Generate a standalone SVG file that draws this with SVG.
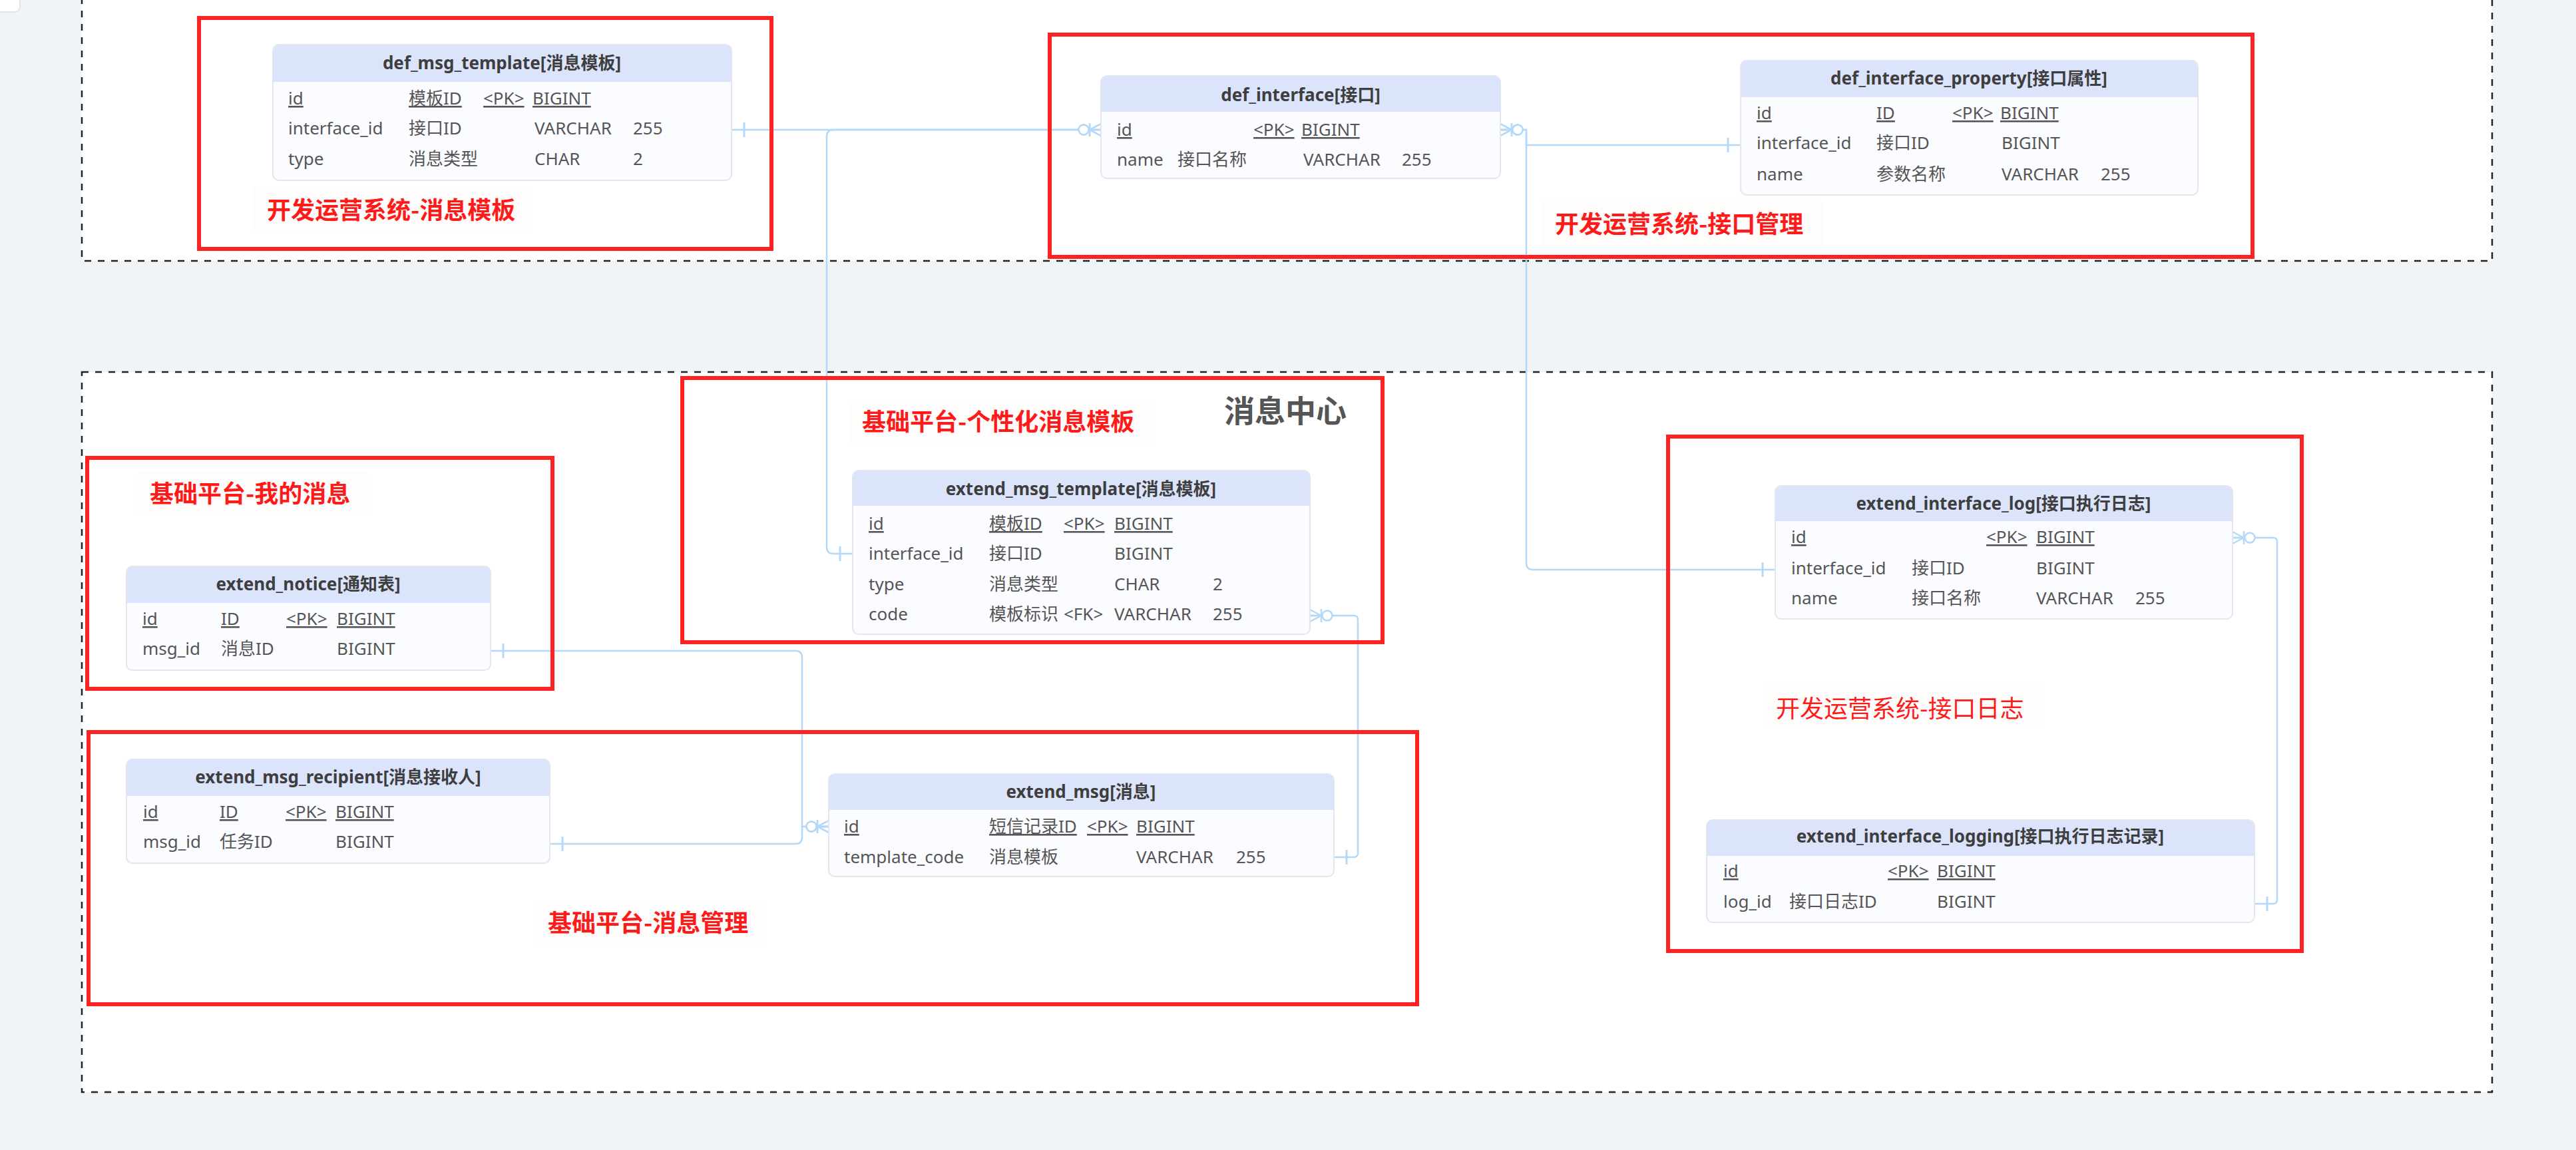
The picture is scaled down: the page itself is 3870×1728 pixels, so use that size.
<svg xmlns="http://www.w3.org/2000/svg" width="3870" height="1728" viewBox="0 0 3870 1728">
<style>
.bg{fill:#f1f4f6}
.zone{fill:#ffffff;stroke:#222;stroke-width:2.5;stroke-dasharray:10 10}
.red{fill:none;stroke:#ff2222;stroke-width:6}
.lblbg{fill:#fffcfc}
.lbl{font-family:"Noto Sans CJK SC","Noto Sans",sans-serif;font-size:36px;fill:#ff1a1a;font-weight:600}
.lbl2{font-family:"Noto Sans CJK SC","Noto Sans",sans-serif;font-size:36px;fill:#ff1a1a;font-weight:400}
.title{font-family:"Noto Sans CJK SC","Noto Sans",sans-serif;font-size:46px;fill:#555;font-weight:700}
.tbl{fill:#fbfcff;stroke:#e3e6ee;stroke-width:2}
.hdr{fill:#dce4fb}
.ht{font-family:"Noto Sans","Noto Sans CJK SC",sans-serif;font-size:26px;font-weight:700;fill:#3e3e3e;text-anchor:middle}
.rt{font-family:"Noto Sans","Noto Sans CJK SC",sans-serif;font-size:26px;fill:#555}
.u{text-decoration:underline}
.conn{fill:none;stroke:#b3d8f8;stroke-width:2.5}
</style>
<defs>
<marker id="many" markerUnits="userSpaceOnUse" markerWidth="40" markerHeight="30" viewBox="-40 -15 40 30" refX="0" refY="0" orient="auto" overflow="visible">
<path d="M-17,0 L0,-9 M-17,0 L0,0 M-17,0 L0,9 M-17,-10 V10" fill="none" stroke="#b3d8f8" stroke-width="2.5"/>
<circle cx="-26" cy="0" r="7.5" fill="#fff" stroke="#b3d8f8" stroke-width="2.5"/>
</marker>
<marker id="one" markerUnits="userSpaceOnUse" markerWidth="40" markerHeight="30" viewBox="-40 -15 40 30" refX="0" refY="0" orient="auto-start-reverse" overflow="visible">
<path d="M-19,-11 V11" fill="none" stroke="#b3d8f8" stroke-width="3"/>
</marker>
</defs>
<rect class="bg" x="0" y="0" width="3870" height="1728"/>
<rect x="-10" y="-10" width="40" height="28" rx="8" fill="#fff" stroke="#e2e3ee" stroke-width="2"/>
<rect class="zone" x="123" y="-20" width="3621" height="412"/>
<rect class="zone" x="123" y="559" width="3621" height="1082"/>

<g id="connectors">
<path class="conn" d="M1099,195 H1654" marker-start="url(#one)" marker-end="url(#many)"/>
<path class="conn" d="M1281,832 H1252 Q1242,832 1242,822 V205 Q1242,195 1252,195 H1654" marker-start="url(#one)" marker-end="url(#many)"/>
<path class="conn" d="M2615,218 H2293 V195 H2254" marker-start="url(#one)" marker-end="url(#many)"/>
<path class="conn" d="M2667,856 H2303 Q2293,856 2293,846 V195 H2254" marker-start="url(#one)" marker-end="url(#many)"/>
<path class="conn" d="M737,978 H1195 Q1205,978 1205,988 V1242 H1245" marker-start="url(#one)" marker-end="url(#many)"/>
<path class="conn" d="M826,1268 H1195 Q1205,1268 1205,1258 V1242 H1245" marker-start="url(#one)" marker-end="url(#many)"/>
<path class="conn" d="M2004,1288 H2034 Q2040,1288 2040,1282 V931 Q2040,925 2034,925 H1968" marker-start="url(#one)" marker-end="url(#many)"/>
<path class="conn" d="M3387,1358 H3415 Q3421,1358 3421,1352 V814 Q3421,808 3415,808 H3354" marker-start="url(#one)" marker-end="url(#many)"/>
</g>

<g id="group-msg-template-dev">
<rect class="red" x="299" y="27" width="860" height="347"/>
<rect class="lblbg" x="381" y="280" width="419" height="67"/>
<text class="lbl" x="401" y="329">开发运营系统-消息模板</text>
</g>
<g id="group-interface-dev">
<rect class="red" x="1577" y="52" width="1807" height="334"/>
<rect class="lblbg" x="2315" y="303" width="424" height="66"/>
<text class="lbl" x="2336" y="350">开发运营系统-接口管理</text>
</g>
<g id="group-custom-template">
<rect class="red" x="1025" y="568" width="1052" height="397"/>
<rect class="lblbg" x="1277" y="602" width="453" height="65"/>
<text class="lbl" x="1295" y="647">基础平台-个性化消息模板</text>
<text class="title" x="1839" y="634">消息中心</text>
</g>
<g id="group-my-msg">
<rect class="red" x="131" y="688" width="699" height="347"/>
<rect class="lblbg" x="207" y="708" width="346" height="67"/>
<text class="lbl" x="225" y="755">基础平台-我的消息</text>
</g>
<g id="group-interface-log">
<rect class="red" x="2506" y="656" width="952" height="773"/>
<rect class="lblbg" x="2650" y="1030" width="420" height="64"/>
<text class="lbl2" x="2668" y="1078">开发运营系统-接口日志</text>
</g>
<g id="group-msg-manage">
<rect class="red" x="133" y="1100" width="1996" height="409"/>
<rect class="lblbg" x="806" y="1355" width="345" height="66"/>
<text class="lbl" x="823" y="1400">基础平台-消息管理</text>
</g>

<g id="def_msg_template">
<rect class="tbl" x="410" y="67" width="689" height="204" rx="9"/>
<path class="hdr" d="M411,123 V76 Q411,68 419,68 H1090 Q1098,68 1098,76 V123 Z"/>
<text class="ht" x="754" y="104">def_msg_template[消息模板]</text>
<text class="rt u" x="433" y="157">id</text><text class="rt u" x="614" y="157">模板ID</text><text class="rt u" x="726" y="157">&lt;PK&gt;</text><text class="rt u" x="800" y="157">BIGINT</text>
<text class="rt" x="433" y="202">interface_id</text><text class="rt" x="614" y="202">接口ID</text><text class="rt" x="803" y="202">VARCHAR</text><text class="rt" x="951" y="202">255</text>
<text class="rt" x="433" y="248">type</text><text class="rt" x="614" y="248">消息类型</text><text class="rt" x="803" y="248">CHAR</text><text class="rt" x="951" y="248">2</text>
</g>

<g id="def_interface">
<rect class="tbl" x="1654" y="114" width="600" height="154" rx="9"/>
<path class="hdr" d="M1655,168 V123 Q1655,115 1663,115 H2245 Q2253,115 2253,123 V168 Z"/>
<text class="ht" x="1954" y="152">def_interface[接口]</text>
<text class="rt u" x="1678" y="204">id</text><text class="rt u" x="1883" y="204">&lt;PK&gt;</text><text class="rt u" x="1955" y="204">BIGINT</text>
<text class="rt" x="1678" y="249">name</text><text class="rt" x="1769" y="249">接口名称</text><text class="rt" x="1958" y="249">VARCHAR</text><text class="rt" x="2106" y="249">255</text>
</g>

<g id="def_interface_property">
<rect class="tbl" x="2615" y="91" width="687" height="202" rx="9"/>
<path class="hdr" d="M2616,146 V100 Q2616,92 2624,92 H3293 Q3301,92 3301,100 V146 Z"/>
<text class="ht" x="2958" y="127">def_interface_property[接口属性]</text>
<text class="rt u" x="2639" y="179">id</text><text class="rt u" x="2819" y="179">ID</text><text class="rt u" x="2933" y="179">&lt;PK&gt;</text><text class="rt u" x="3005" y="179">BIGINT</text>
<text class="rt" x="2639" y="224">interface_id</text><text class="rt" x="2819" y="224">接口ID</text><text class="rt" x="3007" y="224">BIGINT</text>
<text class="rt" x="2639" y="271">name</text><text class="rt" x="2819" y="271">参数名称</text><text class="rt" x="3007" y="271">VARCHAR</text><text class="rt" x="3156" y="271">255</text>
</g>

<g id="extend_msg_template">
<rect class="tbl" x="1281" y="707" width="687" height="246" rx="9"/>
<path class="hdr" d="M1282,760 V716 Q1282,708 1290,708 H1959 Q1967,708 1967,716 V760 Z"/>
<text class="ht" x="1624" y="744">extend_msg_template[消息模板]</text>
<text class="rt u" x="1305" y="796">id</text><text class="rt u" x="1486" y="796">模板ID</text><text class="rt u" x="1598" y="796">&lt;PK&gt;</text><text class="rt u" x="1674" y="796">BIGINT</text>
<text class="rt" x="1305" y="841">interface_id</text><text class="rt" x="1486" y="841">接口ID</text><text class="rt" x="1674" y="841">BIGINT</text>
<text class="rt" x="1305" y="887">type</text><text class="rt" x="1486" y="887">消息类型</text><text class="rt" x="1674" y="887">CHAR</text><text class="rt" x="1822" y="887">2</text>
<text class="rt" x="1305" y="932">code</text><text class="rt" x="1486" y="932">模板标识</text><text class="rt" x="1598" y="932">&lt;FK&gt;</text><text class="rt" x="1674" y="932">VARCHAR</text><text class="rt" x="1822" y="932">255</text>
</g>

<g id="extend_notice">
<rect class="tbl" x="190" y="851" width="547" height="156" rx="9"/>
<path class="hdr" d="M191,906 V860 Q191,852 199,852 H728 Q736,852 736,860 V906 Z"/>
<text class="ht" x="463" y="887">extend_notice[通知表]</text>
<text class="rt u" x="214" y="939">id</text><text class="rt u" x="332" y="939">ID</text><text class="rt u" x="430" y="939">&lt;PK&gt;</text><text class="rt u" x="506" y="939">BIGINT</text>
<text class="rt" x="214" y="984">msg_id</text><text class="rt" x="332" y="984">消息ID</text><text class="rt" x="506" y="984">BIGINT</text>
</g>

<g id="extend_msg_recipient">
<rect class="tbl" x="190" y="1141" width="636" height="156" rx="9"/>
<path class="hdr" d="M191,1196 V1150 Q191,1142 199,1142 H817 Q825,1142 825,1150 V1196 Z"/>
<text class="ht" x="508" y="1177">extend_msg_recipient[消息接收人]</text>
<text class="rt u" x="215" y="1229">id</text><text class="rt u" x="330" y="1229">ID</text><text class="rt u" x="429" y="1229">&lt;PK&gt;</text><text class="rt u" x="504" y="1229">BIGINT</text>
<text class="rt" x="215" y="1274">msg_id</text><text class="rt" x="330" y="1274">任务ID</text><text class="rt" x="504" y="1274">BIGINT</text>
</g>

<g id="extend_msg">
<rect class="tbl" x="1245" y="1163" width="759" height="154" rx="9"/>
<path class="hdr" d="M1246,1217 V1172 Q1246,1164 1254,1164 H1995 Q2003,1164 2003,1172 V1217 Z"/>
<text class="ht" x="1624" y="1199">extend_msg[消息]</text>
<text class="rt u" x="1268" y="1251">id</text><text class="rt u" x="1486" y="1251">短信记录ID</text><text class="rt u" x="1633" y="1251">&lt;PK&gt;</text><text class="rt u" x="1707" y="1251">BIGINT</text>
<text class="rt" x="1268" y="1297">template_code</text><text class="rt" x="1486" y="1297">消息模板</text><text class="rt" x="1707" y="1297">VARCHAR</text><text class="rt" x="1857" y="1297">255</text>
</g>

<g id="extend_interface_log">
<rect class="tbl" x="2667" y="730" width="687" height="200" rx="9"/>
<path class="hdr" d="M2668,783 V739 Q2668,731 2676,731 H3345 Q3353,731 3353,739 V783 Z"/>
<text class="ht" x="3010" y="766">extend_interface_log[接口执行日志]</text>
<text class="rt u" x="2691" y="816">id</text><text class="rt u" x="2984" y="816">&lt;PK&gt;</text><text class="rt u" x="3059" y="816">BIGINT</text>
<text class="rt" x="2691" y="863">interface_id</text><text class="rt" x="2872" y="863">接口ID</text><text class="rt" x="3059" y="863">BIGINT</text>
<text class="rt" x="2691" y="908">name</text><text class="rt" x="2872" y="908">接口名称</text><text class="rt" x="3059" y="908">VARCHAR</text><text class="rt" x="3208" y="908">255</text>
</g>

<g id="extend_interface_logging">
<rect class="tbl" x="2564" y="1232" width="823" height="154" rx="9"/>
<path class="hdr" d="M2565,1286 V1241 Q2565,1233 2573,1233 H3378 Q3386,1233 3386,1241 V1286 Z"/>
<text class="ht" x="2975" y="1266">extend_interface_logging[接口执行日志记录]</text>
<text class="rt u" x="2589" y="1318">id</text><text class="rt u" x="2836" y="1318">&lt;PK&gt;</text><text class="rt u" x="2910" y="1318">BIGINT</text>
<text class="rt" x="2589" y="1364">log_id</text><text class="rt" x="2688" y="1364">接口日志ID</text><text class="rt" x="2910" y="1364">BIGINT</text>
</g>
</svg>
